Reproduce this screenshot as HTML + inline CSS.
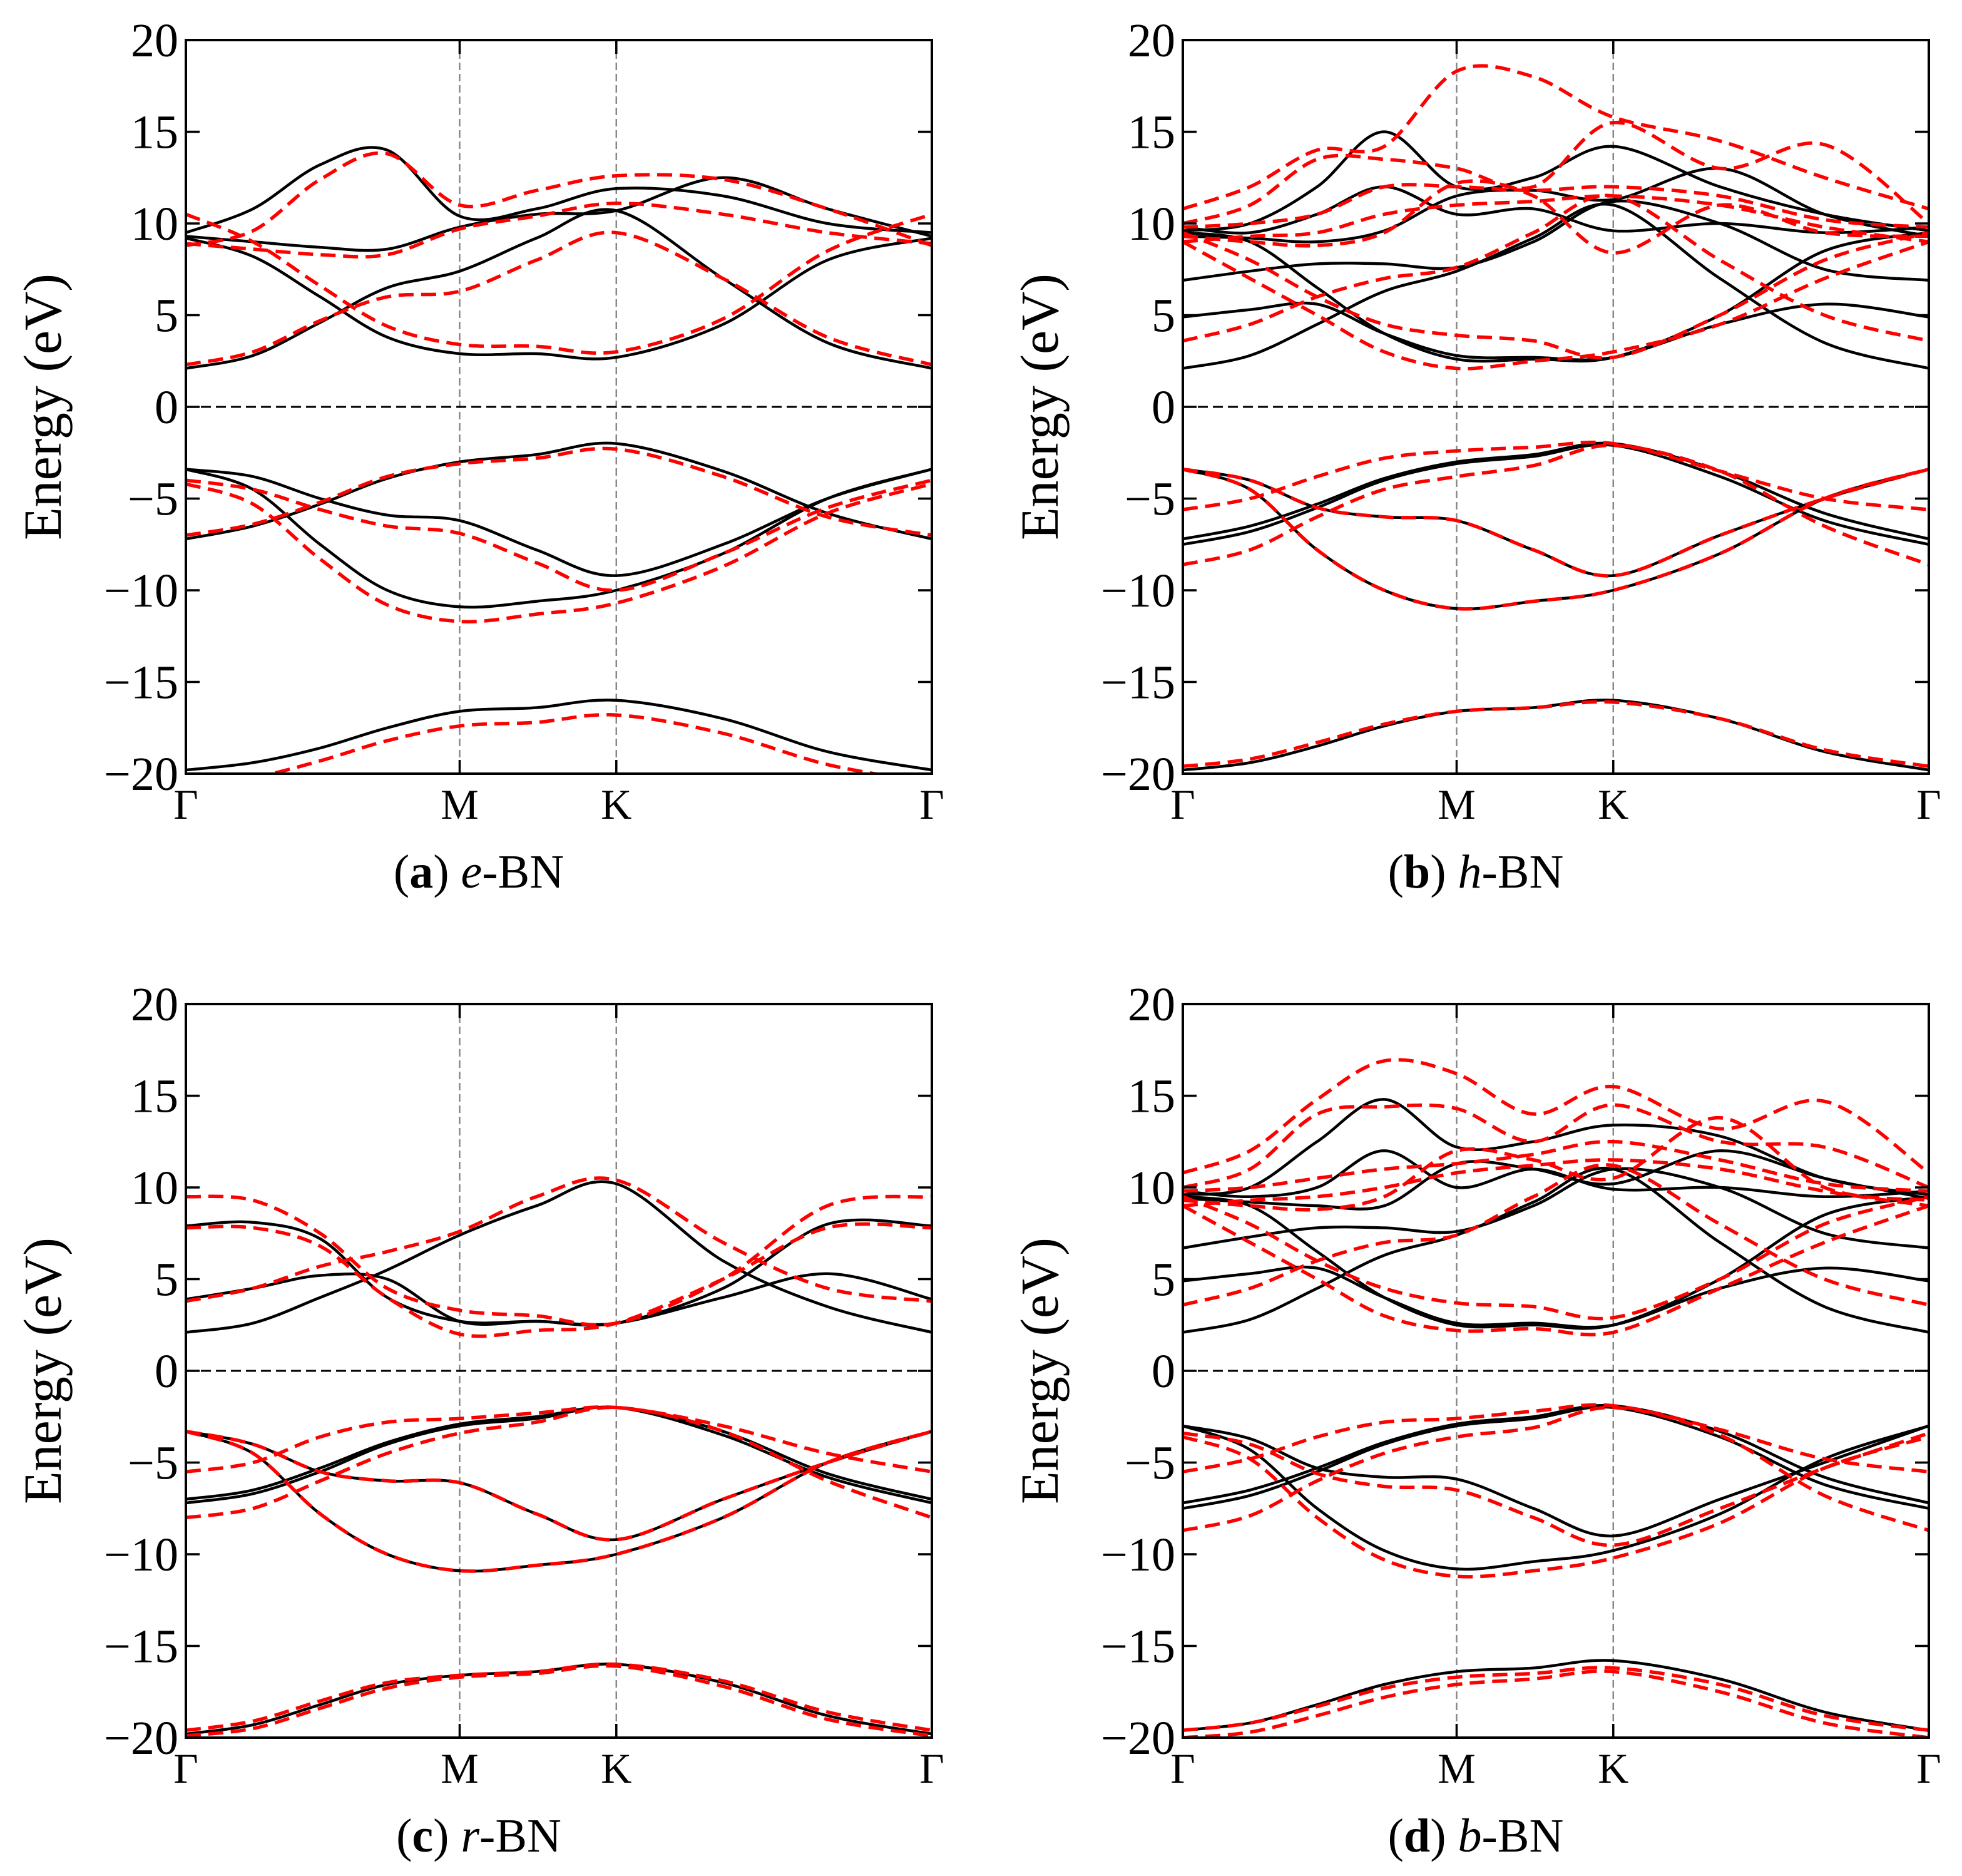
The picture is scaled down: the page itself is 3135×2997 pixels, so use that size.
<!DOCTYPE html>
<html><head><meta charset="utf-8">
<style>
html,body{margin:0;padding:0;background:#fff;}
svg{display:block;font-family:"Liberation Serif",serif;}
</style></head>
<body>
<svg id="fig" width="3135" height="2997" viewBox="0 0 3135 2997" xmlns="http://www.w3.org/2000/svg"></svg>
<script>
// k-path sample positions (fraction of path): Γ ... M(0.367) ... K(0.577) ... Γ
const kpts = [0, 0.09, 0.18, 0.27, 0.367, 0.47, 0.577, 0.72, 0.86, 1.0];
const kTickPos = [0, 0.367, 0.577, 1.0];
const kTickLabels = ["Γ", "M", "K", "Γ"];
const yTicks = [20, 15, 10, 5, 0, -5, -10, -15, -20];
const yTickLabels = ["20", "15", "10", "5", "0", "−5", "−10", "−15", "−20"];

// Panel a: e-BN
const aBlack = [
  [-19.8,-19.4,-18.6,-17.5,-16.6,-16.4,-16.0,-17.0,-18.8,-19.8],
  [-7.2,-6.5,-5.3,-3.9,-3.0,-2.6,-2.0,-3.5,-5.8,-7.2],
  [-3.4,-3.8,-5.0,-5.9,-6.2,-7.8,-9.2,-7.5,-5.0,-3.4],
  [-3.4,-4.5,-7.5,-10.0,-10.9,-10.6,-10.0,-8.0,-5.0,-3.4],
  [2.1,2.8,4.6,6.5,7.4,9.2,10.7,7.0,3.5,2.1],
  [9.2,8.2,6.0,3.8,2.9,2.9,2.7,4.5,8.0,9.2],
  [9.5,10.8,13.2,14.0,10.4,10.8,11.9,11.5,10.0,9.5],
  [9.3,9.0,8.7,8.6,9.8,10.5,10.7,12.5,10.8,9.3]
];
const aRed = [
  [-20.5,-20.2,-19.3,-18.2,-17.4,-17.2,-16.8,-17.8,-19.5,-20.5],
  [-7.0,-6.4,-5.2,-3.8,-3.1,-2.8,-2.3,-3.8,-6.0,-7.0],
  [-4.0,-4.5,-5.6,-6.5,-6.9,-8.5,-10.0,-8.0,-5.5,-4.0],
  [-4.2,-5.3,-8.3,-10.8,-11.7,-11.3,-10.7,-8.7,-5.8,-4.2],
  [2.3,3.0,4.7,6.0,6.3,8.0,9.5,7.0,3.8,2.3],
  [10.5,9.0,6.6,4.4,3.4,3.3,3.0,4.8,8.5,10.5],
  [8.8,9.6,12.4,13.8,11.0,11.8,12.6,12.4,10.8,8.8],
  [8.9,8.6,8.3,8.3,9.7,10.4,11.1,10.5,9.5,8.9]
];
// Panel b: h-BN
const bBlack = [
  [-19.8,-19.4,-18.5,-17.4,-16.6,-16.4,-16.0,-17.0,-18.8,-19.8],
  [-7.2,-6.5,-5.3,-3.9,-3.0,-2.6,-2.0,-3.5,-5.8,-7.2],
  [-7.5,-6.8,-5.5,-4.0,-3.1,-2.7,-2.1,-3.8,-6.2,-7.5],
  [-3.4,-4.0,-5.5,-6.0,-6.2,-7.8,-9.2,-7.0,-5.0,-3.4],
  [-3.4,-4.5,-7.8,-10.0,-11.0,-10.6,-10.0,-8.0,-5.0,-3.4],
  [2.1,2.8,4.5,6.3,7.4,9.2,11.0,7.0,3.5,2.1],
  [4.9,5.3,5.6,4.0,2.8,2.7,2.7,4.5,5.6,4.9],
  [6.9,7.4,7.8,7.8,7.6,9.0,11.2,10.0,7.5,6.9],
  [9.5,9.0,6.5,4.0,2.6,2.6,2.7,5.0,8.5,9.5],
  [9.6,10.0,12.0,15.0,12.0,12.5,14.2,12.0,10.5,9.6],
  [9.8,9.5,10.5,12.0,10.5,10.8,9.6,10.0,9.5,9.8],
  [9.3,9.2,9.0,9.6,11.5,11.8,11.3,13.0,10.5,9.3]
];
const bRed = [
  [-19.6,-19.2,-18.3,-17.3,-16.6,-16.4,-16.1,-17.0,-18.7,-19.6],
  [-3.4,-4.0,-5.5,-6.0,-6.2,-7.8,-9.2,-7.0,-5.0,-3.4],
  [-3.4,-4.5,-7.8,-10.0,-11.0,-10.6,-10.0,-8.0,-5.0,-3.4],
  [-5.6,-5.0,-3.8,-2.8,-2.4,-2.2,-2.0,-3.5,-5.0,-5.6],
  [-8.6,-7.8,-6.0,-4.5,-3.8,-3.2,-2.1,-3.5,-6.5,-8.6],
  [3.6,4.5,6.0,7.0,7.6,9.5,11.5,8.0,5.0,3.6],
  [9.0,7.0,5.0,3.0,2.1,2.5,3.0,4.5,7.0,9.0],
  [9.5,8.0,6.0,4.5,3.9,3.6,2.7,5.0,8.0,9.5],
  [10.8,12.0,14.0,14.2,18.3,18.0,15.8,14.5,12.5,10.8],
  [10.0,11.0,13.5,13.5,13.0,12.0,15.5,13.0,14.3,10.0],
  [9.3,9.0,8.8,9.5,12.2,11.5,8.4,11.0,9.5,9.3],
  [9.8,10.0,10.5,12.0,12.0,11.8,12.0,11.5,10.2,9.8],
  [9.0,9.3,9.5,10.5,11.0,11.2,11.5,11.0,9.8,9.0]
];
// Panel c: r-BN
const cBlack = [
  [-19.8,-19.3,-18.2,-17.1,-16.6,-16.4,-16.0,-17.0,-18.8,-19.8],
  [-7.2,-6.7,-5.5,-4.0,-3.0,-2.6,-2.0,-3.5,-5.8,-7.2],
  [-7.0,-6.5,-5.3,-3.9,-2.9,-2.5,-2.0,-3.3,-5.6,-7.0],
  [-3.3,-4.0,-5.5,-6.0,-6.1,-7.8,-9.2,-7.0,-5.0,-3.3],
  [-3.3,-4.5,-7.8,-10.0,-10.9,-10.6,-10.0,-8.0,-5.0,-3.3],
  [2.1,2.6,4.0,5.5,7.4,9.0,10.2,6.0,3.5,2.1],
  [3.9,4.5,5.2,5.0,2.7,2.7,2.6,4.0,5.3,3.9],
  [7.9,8.1,7.2,4.0,2.7,2.7,2.6,4.5,8.0,7.9]
];
const cRed = [
  [-19.6,-19.1,-18.0,-17.0,-16.6,-16.4,-16.0,-16.9,-18.6,-19.6],
  [-19.9,-19.5,-18.4,-17.3,-16.7,-16.5,-16.1,-17.2,-19.0,-19.9],
  [-3.3,-4.0,-5.5,-6.0,-6.1,-7.8,-9.2,-7.0,-5.0,-3.3],
  [-3.3,-4.5,-7.8,-10.0,-10.9,-10.6,-10.0,-8.0,-5.0,-3.3],
  [-5.5,-5.0,-3.6,-2.8,-2.6,-2.3,-2.0,-3.0,-4.5,-5.5],
  [-8.0,-7.5,-6.0,-4.5,-3.4,-2.8,-2.0,-3.3,-6.0,-8.0],
  [9.5,9.3,7.5,4.5,3.3,3.0,2.6,5.0,9.0,9.5],
  [7.8,7.8,6.8,4.0,2.0,2.2,2.6,5.0,7.8,7.8],
  [3.8,4.5,5.7,6.5,7.6,9.5,10.4,7.0,4.5,3.8]
];
// Panel d: b-BN
const dBlack = [
  [-19.6,-19.2,-18.2,-17.1,-16.4,-16.2,-15.8,-16.8,-18.6,-19.6],
  [-7.2,-6.5,-5.3,-3.9,-2.9,-2.5,-1.9,-3.3,-5.8,-7.2],
  [-7.5,-6.8,-5.5,-4.0,-3.0,-2.6,-2.0,-3.6,-6.2,-7.5],
  [-3.0,-3.7,-5.3,-5.8,-5.9,-7.5,-9.0,-7.0,-5.0,-3.0],
  [-3.0,-4.3,-7.5,-9.8,-10.8,-10.4,-9.8,-7.8,-4.8,-3.0],
  [2.1,2.8,4.5,6.3,7.4,9.2,11.0,7.0,3.5,2.1],
  [4.9,5.3,5.6,4.0,2.6,2.6,2.5,4.5,5.6,4.9],
  [6.7,7.3,7.8,7.8,7.6,9.0,11.0,10.0,7.5,6.7],
  [9.5,9.0,6.5,4.0,2.5,2.5,2.5,5.0,8.5,9.5],
  [9.6,10.0,12.5,14.8,12.2,12.5,13.4,12.8,10.5,9.6],
  [9.8,9.5,10.0,12.0,10.0,11.0,9.9,10.0,9.5,9.8],
  [9.4,9.2,9.0,9.0,11.3,11.0,10.2,12.0,10.5,9.4]
];
const dRed = [
  [-19.6,-19.2,-18.3,-17.3,-16.7,-16.5,-16.2,-17.1,-18.8,-19.6],
  [-20.0,-19.7,-18.8,-17.8,-17.1,-16.8,-16.4,-17.5,-19.2,-20.0],
  [-3.4,-4.0,-5.6,-6.3,-6.5,-8.0,-9.5,-7.5,-5.3,-3.4],
  [-3.6,-4.8,-8.0,-10.3,-11.2,-10.9,-10.2,-8.3,-5.3,-3.6],
  [-5.5,-4.8,-3.6,-2.8,-2.6,-2.2,-1.9,-3.2,-4.8,-5.5],
  [-8.7,-7.9,-6.0,-4.5,-3.6,-3.1,-2.0,-3.5,-6.8,-8.7],
  [3.6,4.5,6.0,7.0,7.4,9.5,11.2,8.0,5.0,3.6],
  [9.0,7.0,5.0,3.0,2.2,2.3,2.1,4.5,7.0,9.0],
  [9.5,8.0,6.0,4.5,3.7,3.5,2.9,5.0,8.0,9.5],
  [10.8,12.0,14.8,16.9,16.2,14.0,15.5,13.2,14.7,10.8],
  [10.0,11.0,14.0,14.4,14.3,12.5,14.5,12.5,12.2,10.0],
  [9.3,9.0,8.8,9.5,12.0,11.5,10.5,13.8,10.0,9.3],
  [9.8,10.0,10.5,11.0,11.3,11.8,12.5,11.5,10.2,9.8],
  [9.0,9.3,9.5,10.0,10.8,11.2,11.5,11.0,9.8,9.0]
];

const NS = "http://www.w3.org/2000/svg";
const svg = document.getElementById("fig");
const PW = 1192, PH = 1172;

function mk(tag, attrs, parent) {
  const e = document.createElementNS(NS, tag);
  for (const k in attrs) e.setAttribute(k, attrs[k]);
  parent.appendChild(e);
  return e;
}
function smoothPath(pts) {
  let d = "M" + pts[0][0].toFixed(1) + "," + pts[0][1].toFixed(1);
  for (let i = 0; i < pts.length - 1; i++) {
    const p0 = pts[Math.max(0, i - 1)], p1 = pts[i], p2 = pts[i + 1], p3 = pts[Math.min(pts.length - 1, i + 2)];
    const c1x = p1[0] + (p2[0] - p0[0]) / 6, c1y = p1[1] + (p2[1] - p0[1]) / 6;
    const c2x = p2[0] - (p3[0] - p1[0]) / 6, c2y = p2[1] - (p3[1] - p1[1]) / 6;
    d += " C" + c1x.toFixed(1) + "," + c1y.toFixed(1) + " " + c2x.toFixed(1) + "," + c2y.toFixed(1) + " " + p2[0].toFixed(1) + "," + p2[1].toFixed(1);
  }
  return d;
}

function drawPanel(id, ox, oy, black, red, letter, material) {
  const g = mk("g", {}, svg);
  
  
  const xs = f => ox + f * PW;
  const ys = e => oy + (20 - e) / 40 * PH;
  const clip = mk("clipPath", {id: "clip-" + id}, g);
  mk("rect", {x: ox, y: oy, width: PW, height: PH}, clip);

  [1, 2].forEach(i => {
    const l = mk("line", {x1: xs(kTickPos[i]), x2: xs(kTickPos[i]), y1: oy, y2: oy + PH, stroke: "#888", "stroke-width": 2.5, "stroke-dasharray": "12,6"}, g);
    
    
  });
  const z = mk("line", {x1: ox, x2: ox + PW, y1: ys(0), y2: ys(0), stroke: "#000", "stroke-width": 3, "stroke-dasharray": "16,8"}, g);
  
  

  const bands = mk("g", {"clip-path": "url(#clip-" + id + ")"}, g);
  black.forEach((b, i) => {
    const p = mk("path", {d: smoothPath(b.map((e, j) => [xs(kpts[j]), ys(e)])), fill: "none", stroke: "#000", "stroke-width": 4.5}, bands);
    
    
  });
  red.forEach((b, i) => {
    const p = mk("path", {d: smoothPath(b.map((e, j) => [xs(kpts[j]), ys(e)])), fill: "none", stroke: "#ff0000", "stroke-width": 5.5, "stroke-dasharray": "24,12"}, bands);
    
    
  });

  const frame = mk("rect", {x: ox, y: oy, width: PW, height: PH, fill: "none", stroke: "#000", "stroke-width": 4}, g);
  
  

  yTicks.forEach((t, i) => {
    mk("line", {x1: ox, x2: ox + 22, y1: ys(t), y2: ys(t), stroke: "#000", "stroke-width": 3.5}, g);
    mk("line", {x1: ox + PW, x2: ox + PW - 22, y1: ys(t), y2: ys(t), stroke: "#000", "stroke-width": 3.5}, g);
    const tx = mk("text", {x: ox - 12, y: ys(t) + 26, "text-anchor": "end", "font-size": 76}, g);
    tx.textContent = yTickLabels[i];
    
    
  });
  kTickPos.forEach((f, i) => {
    mk("line", {x1: xs(f), x2: xs(f), y1: oy + PH, y2: oy + PH - 22, stroke: "#000", "stroke-width": 3.5}, g);
    mk("line", {x1: xs(f), x2: xs(f), y1: oy, y2: oy + 22, stroke: "#000", "stroke-width": 3.5}, g);
    const tx = mk("text", {x: xs(f), y: oy + PH + 72, "text-anchor": "middle", "font-size": 68}, g);
    tx.textContent = kTickLabels[i];
    
    
  });
  const yl = mk("text", {x: 0, y: 0, "text-anchor": "middle", "font-size": 86, transform: "translate(" + (ox - 200) + "," + (oy + PH / 2) + ") rotate(-90)"}, g);
  yl.textContent = "Energy (eV)";
  
  

  const cap = mk("text", {x: ox + PW / 2 - 128, y: oy + PH + 182, "text-anchor": "middle", "font-size": 76}, g);
  
  
  const s1 = mk("tspan", {}, cap); s1.textContent = "(";
  const s2 = mk("tspan", {"font-weight": "bold"}, cap); s2.textContent = letter;
  const s3 = mk("tspan", {}, cap); s3.textContent = ") ";
  const s4 = mk("tspan", {"font-style": "italic"}, cap); s4.textContent = material;
  const s5 = mk("tspan", {}, cap); s5.textContent = "-BN";
}

drawPanel("a", 297, 64, aBlack, aRed, "a", "e");
drawPanel("b", 1890, 64, bBlack, bRed, "b", "h");
drawPanel("c", 297, 1604, cBlack, cRed, "c", "r");
drawPanel("d", 1890, 1604, dBlack, dRed, "d", "b");
</script>
</body></html>
